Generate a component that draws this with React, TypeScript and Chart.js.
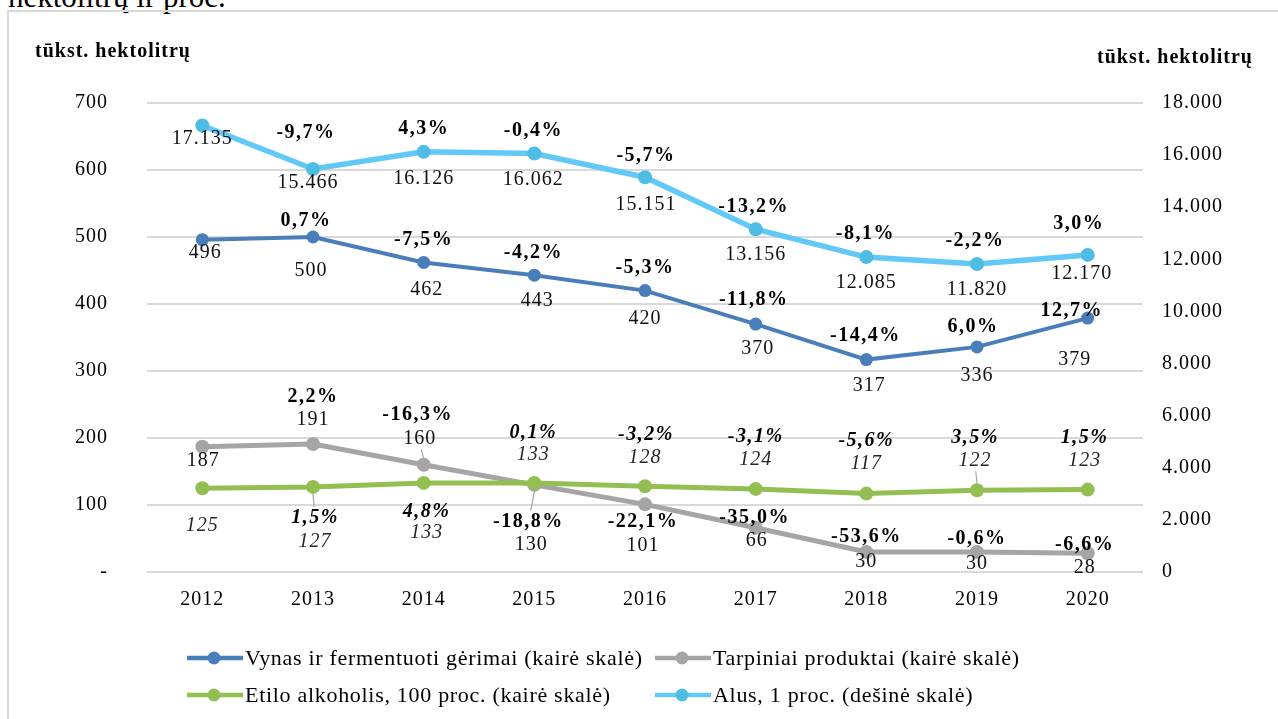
import React, { useEffect, useRef } from "react";
import { Chart, registerables } from "chart.js";

Chart.register(...registerables);

// ---------- data ----------
const years = ["2012", "2013", "2014", "2015", "2016", "2017", "2018", "2019", "2020"];

const seriesNames = [
  "Vynas ir fermentuoti gėrimai (kairė skalė)",
  "Tarpiniai produktai (kairė skalė)",
  "Etilo alkoholis, 100 proc. (kairė skalė)",
  "Alus, 1 proc. (dešinė skalė)",
];

const wine = [496, 500, 462, 443, 420, 370, 317, 336, 379];
const wineChange = [null, 0.7, -7.5, -4.2, -5.3, -11.8, -14.4, 6.0, 12.7];

const intermediate = [187, 191, 160, 130, 101, 66, 30, 30, 28];
const intermediateChange = [null, 2.2, -16.3, -18.8, -22.1, -35.0, -53.6, -0.6, -6.6];

const ethyl = [125, 127, 133, 133, 128, 124, 117, 122, 123];
const ethylChange = [null, 1.5, 4.8, 0.1, -3.2, -3.1, -5.6, 3.5, 1.5];

const beer = [17135, 15466, 16126, 16062, 15151, 13156, 12085, 11820, 12170];
const beerChange = [null, -9.7, 4.3, -0.4, -5.7, -13.2, -8.1, -2.2, 3.0];

const axisTitle = "tūkst. hektolitrų";
const captionText = "hektolitrų ir proc.";

// ---------- styling (label placement relative to each point, in px) ----------
const wineValueOff = [[3, 13], [-2, 34], [3, 27], [3, 26], [0, 28], [2, 25], [3, 26], [0, 29], [-13, 42]];
const wineChangeOff = [null, [-7, -16], [0, -23], [-1, -22], [0, -23], [-2, -24], [-1, -24], [-4, -20], [-16, -7]];

const interValueOff = [[1, 14], [0, -24], [-4, -26], [-3, 60], [-2, 41], [1, 13], [0, 10], [0, 12], [-3, 15]];
const interChangeOff = [null, [0, -47], [-6, -50], [-6, 37], [-2, 17], [-1, -10], [0, -15], [0, -13], [-3, -8]];

const ethylValueOff = [[0, 37], [2, 55], [3, 50], [-1, -28], [0, -28], [0, -29], [0, -30], [-2, -30], [-3, -29]];
const ethylChangeOff = [null, [2, 31], [3, 29], [-1, -50], [1, -51], [0, -52], [0, -53], [-2, -52], [-3, -52]];

const beerValueOff = [[0, 13], [-5, 14], [0, 27], [-1, 26], [1, 28], [0, 26], [0, 26], [0, 26], [-6, 19]];
const beerChangeOff = [null, [-7, -36], [0, -23], [-1, -23], [1, -21], [-2, -22], [-1, -23], [-2, -23], [-9, -31]];

const COLORS = {
  wine: "#4A7EBB",
  inter: "#A5A5A5",
  ethyl: "#93BE52",
  beerLine: "#62C9F7",
  beerPoint: "#4FBCE4",
  grid: "#D9D9D9",
};

const SERIF = '"Liberation Serif", "Times New Roman", serif';

const fmtThousands = (v: number) =>
  v === 0 ? "0" : String(Math.round(v)).replace(/\B(?=(\d{3})+(?!\d))/g, ".");
const fmtPct = (v: number) => v.toFixed(1).replace(".", ",") + "%";

type LabelSpec = {
  ds: number;
  values: number[];
  changes: (number | null)[];
  valueOff: number[][];
  changeOff: (number[] | null)[];
  italic: boolean;
  fmt: (v: number) => string;
};

const labelSpecs: LabelSpec[] = [
  { ds: 0, values: wine, changes: wineChange, valueOff: wineValueOff, changeOff: wineChangeOff, italic: false, fmt: (v) => String(v) },
  { ds: 1, values: intermediate, changes: intermediateChange, valueOff: interValueOff, changeOff: interChangeOff, italic: false, fmt: (v) => String(v) },
  { ds: 2, values: ethyl, changes: ethylChange, valueOff: ethylValueOff, changeOff: ethylChangeOff, italic: true, fmt: (v) => String(v) },
  { ds: 3, values: beer, changes: beerChange, valueOff: beerValueOff, changeOff: beerChangeOff, italic: false, fmt: fmtThousands },
];

// leader lines: [dataset, index, 'v' | 'c']
const leaders: [number, number, string][] = [
  [2, 1, "c"],
  [1, 2, "v"],
  [1, 3, "c"],
  [2, 7, "v"],
];

const labelsPlugin = {
  id: "pointLabels",
  beforeDraw(chart: any) {
    chart.ctx.letterSpacing = "1px";
  },
  afterDatasetsDraw(chart: any) {
    const ctx = chart.ctx as CanvasRenderingContext2D;
    ctx.save();
    // leader lines
    ctx.strokeStyle = "#A5A5A5";
    ctx.lineWidth = 1.2;
    for (const [ds, i, which] of leaders) {
      const spec = labelSpecs.find((s) => s.ds === ds)!;
      const pt = chart.getDatasetMeta(ds).data[i];
      const off = which === "v" ? spec.valueOff[i] : spec.changeOff[i];
      if (!off) continue;
      const ly = pt.y + off[1];
      const dir = Math.sign(off[1]);
      const y0 = pt.y + dir * 7;
      const y1 = ly - dir * 11;
      ctx.beginPath();
      ctx.moveTo(pt.x, y0);
      ctx.lineTo(pt.x + off[0] * 0.6, y1);
      ctx.stroke();
    }
    ctx.textAlign = "center";
    ctx.textBaseline = "middle";
    ctx.fillStyle = "#000";
    for (const spec of labelSpecs) {
      const meta = chart.getDatasetMeta(spec.ds);
      meta.data.forEach((pt: any, i: number) => {
        const vo = spec.valueOff[i];
        ctx.font = `${spec.italic ? "italic " : ""}20px ${SERIF}`;
        (ctx as any).letterSpacing = "1px";
        ctx.fillStyle = spec.italic ? "#262626" : "#111";
        ctx.fillText(spec.fmt(spec.values[i]), pt.x + vo[0], pt.y + vo[1]);
        const ch = spec.changes[i];
        const co = spec.changeOff[i];
        if (ch !== null && co) {
          ctx.font = `${spec.italic ? "italic " : ""}bold 20px ${SERIF}`;
          (ctx as any).letterSpacing = "1.5px";
          ctx.fillStyle = "#000";
          ctx.fillText(fmtPct(ch), pt.x + co[0], pt.y + co[1]);
        }
      });
    }
    ctx.restore();
  },
  afterDraw(chart: any) {
    const ctx = chart.ctx as CanvasRenderingContext2D;
    ctx.save();
    // axis titles
    ctx.fillStyle = "#000";
    ctx.textBaseline = "middle";
    ctx.textAlign = "left";
    ctx.font = `bold 20px ${SERIF}`;
    (ctx as any).letterSpacing = "1px";
    ctx.fillText(axisTitle, 35, 52);
    ctx.fillText(axisTitle, 1097, 58);

    // legend
    const colors = [COLORS.wine, COLORS.inter, COLORS.ethyl, COLORS.beerLine];
    const pointColors = [COLORS.wine, COLORS.inter, COLORS.ethyl, COLORS.beerPoint];
    const colX = [187, 655];
    const rowY = [658, 695];
    ctx.font = `22px ${SERIF}`;
    (ctx as any).letterSpacing = "0.7px";
    seriesNames.forEach((name, k) => {
      const x = colX[k % 2];
      const y = rowY[Math.floor(k / 2)];
      ctx.strokeStyle = colors[k];
      ctx.lineWidth = 4.5;
      ctx.beginPath();
      ctx.moveTo(x, y);
      ctx.lineTo(x + 56, y);
      ctx.stroke();
      ctx.fillStyle = pointColors[k];
      ctx.beginPath();
      ctx.arc(x + 27, y, 6.5, 0, Math.PI * 2);
      ctx.fill();
      ctx.fillStyle = "#000";
      ctx.fillText(name, x + 58, y + 1);
    });
    ctx.restore();
  },
};

export default function App() {
  const ref = useRef<HTMLCanvasElement>(null);

  useEffect(() => {
    const canvas = ref.current!;
    const tickFont = { family: SERIF, size: 20 };
    const chart = new Chart(canvas, {
      type: "line",
      data: {
        labels: years,
        datasets: [
          {
            label: seriesNames[0],
            data: wine,
            yAxisID: "y",
            borderColor: COLORS.wine,
            backgroundColor: COLORS.wine,
            pointBackgroundColor: COLORS.wine,
            pointBorderWidth: 0,
            borderWidth: 4,
            pointRadius: 6.5,
            order: 1,
          },
          {
            label: seriesNames[1],
            data: intermediate,
            yAxisID: "y",
            borderColor: COLORS.inter,
            backgroundColor: COLORS.inter,
            pointBackgroundColor: COLORS.inter,
            pointBorderWidth: 0,
            borderWidth: 5,
            pointRadius: 7,
            order: 3,
          },
          {
            label: seriesNames[2],
            data: ethyl,
            yAxisID: "y",
            borderColor: COLORS.ethyl,
            backgroundColor: COLORS.ethyl,
            pointBackgroundColor: COLORS.ethyl,
            pointBorderWidth: 0,
            borderWidth: 5,
            pointRadius: 7,
            order: 2,
          },
          {
            label: seriesNames[3],
            data: beer,
            yAxisID: "y1",
            borderColor: COLORS.beerLine,
            backgroundColor: COLORS.beerPoint,
            pointBackgroundColor: COLORS.beerPoint,
            pointBorderWidth: 0,
            borderWidth: 5.5,
            pointRadius: 7,
            order: 4,
          },
        ],
      },
      options: {
        responsive: false,
        devicePixelRatio: 1,
        animation: false,
        events: [],
        layout: { padding: { top: 103, left: 0, right: 0, bottom: 0 } },
        plugins: {
          legend: { display: false },
          tooltip: { enabled: false },
          title: { display: false },
        },
        scales: {
          x: {
            type: "category",
            offset: true,
            grid: { display: false, drawTicks: false },
            border: { display: false },
            ticks: { font: tickFont, color: "#000", padding: 16, maxRotation: 0, autoSkip: false },
            afterFit: (s: any) => {
              s.height = 147;
            },
          },
          y: {
            position: "left",
            min: 0,
            max: 700,
            grid: { color: COLORS.grid, lineWidth: 2, drawTicks: false },
            border: { display: false },
            ticks: {
              stepSize: 100,
              font: tickFont,
              color: "#000",
              padding: 39,
              callback: (v: any) => (Number(v) === 0 ? "-" : String(v)),
            },
            afterFit: (s: any) => {
              s.width = 147;
            },
          },
          y1: {
            position: "right",
            min: 0,
            max: 18000,
            grid: { display: false, drawTicks: false },
            border: { display: false },
            ticks: {
              stepSize: 2000,
              font: tickFont,
              color: "#000",
              padding: 19,
              callback: (v: any) => fmtThousands(Number(v)),
            },
            afterFit: (s: any) => {
              s.width = 135;
            },
          },
        },
      },
      plugins: [labelsPlugin],
    } as any);
    return () => chart.destroy();
  }, []);

  return (
    <div
      style={{
        position: "fixed",
        left: 0,
        top: 0,
        width: 1278,
        height: 719,
        overflow: "hidden",
        background: "#fff",
      }}
    >
      <div
        style={{
          position: "absolute",
          left: 8,
          top: -21,
          font: `31px ${SERIF}`,
          lineHeight: "normal",
          whiteSpace: "nowrap",
          color: "#000",
        }}
      >
        {captionText}
      </div>
      <div
        style={{
          position: "absolute",
          left: 7,
          top: 10,
          width: 1320,
          height: 800,
          border: "2px solid #D9D9D9",
          boxSizing: "border-box",
        }}
      />
      <canvas
        ref={ref}
        width={1278}
        height={719}
        style={{ position: "absolute", left: 0, top: 0, width: 1278, height: 719 }}
      />
    </div>
  );
}
